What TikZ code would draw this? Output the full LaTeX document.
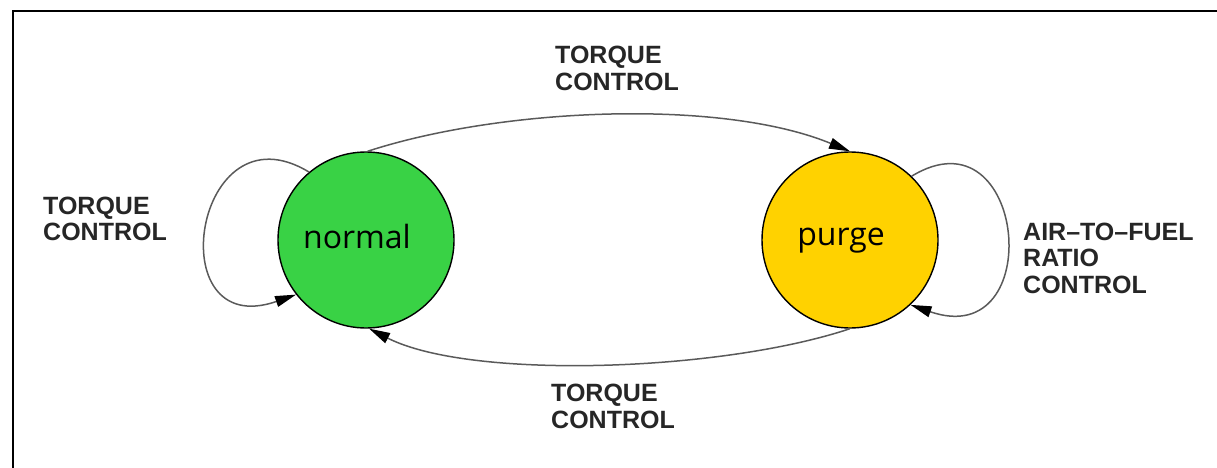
\documentclass[tikz,border=0pt]{standalone}
\usepackage{fontspec}
\usetikzlibrary{arrows.meta}
\newfontfamily\statefont{Open Sans}
\newfontfamily\lblfont{Liberation Sans}
\definecolor{stategreen}{HTML}{39D245}
\definecolor{stateyellow}{HTML}{FFD200}
\definecolor{wire}{HTML}{5A5A5A}
\definecolor{lbltext}{HTML}{262626}
\tikzset{
  state/.style={circle, draw=black, line width=1.4pt, minimum size=176pt, inner sep=0pt},
  statename/.style={font=\statefont\fontsize{32}{36}\selectfont, inner sep=0pt, anchor=base},
  % multi-line labels are placed by the baseline of their last line
  tlabel/.style={font=\lblfont\bfseries\fontsize{25}{26.5}\selectfont, text=lbltext,
                 align=left, inner sep=0pt, anchor=base west},
  trans/.style={draw=wire, line width=1.5pt,
                -{Triangle[length=21pt,width=11pt,fill=black,color=black]}},
  frameline/.style={line width=2pt, black}
}
\begin{document}
\begin{tikzpicture}[x=1pt, y=-1pt]
  \useasboundingbox (0,0) rectangle (1217,468);

  % outer frame (top and left edges)
  \coordinate (fbl) at (13,468);
  \coordinate (ftl) at (13,11);
  \coordinate (ftr) at (1217,11);
  \draw[frameline] (fbl) -- (ftl) -- (ftr);

  % states
  \node[state, fill=stategreen]  (normal) at (366,240) {};
  \node[state, fill=stateyellow] (purge)  at (850,240) {};
  \node[statename] (normalname) at (357,248) {normal};
  \node[statename] (purgename)  at (841,245) {purge};

  % transitions between the states
  \draw[trans] (normal.89) .. controls (500,108) and (720,98) .. (purge.90);
  \draw[trans] (purge.270) .. controls (720,372) and (470,380) .. (normal.272);

  % self loops
  \draw[trans] (normal.130) .. controls +(-115,-70) and +(-138,48) .. (normal.218);
  \draw[trans] (purge.46) .. controls +(115,-70) and +(138,48) .. (purge.313);

  % transition labels
  \node[tlabel] (ltop)   at (555,90.5)  {TORQUE\\CONTROL};
  \node[tlabel] (lleft)  at (43,240.5)  {TORQUE\\CONTROL};
  \node[tlabel] (lright) at (1023,293) {AIR\textendash TO\textendash FUEL\\RATIO\\CONTROL};
  \node[tlabel] (lbot)   at (551,428) {TORQUE\\CONTROL};
\end{tikzpicture}
\end{document}
